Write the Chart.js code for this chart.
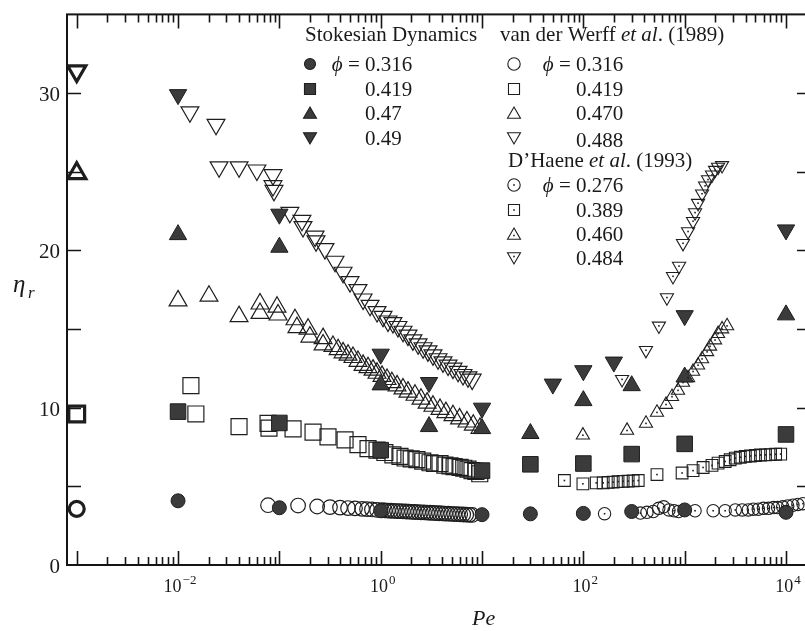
<!DOCTYPE html>
<html><head><meta charset="utf-8">
<script src="https://cdn.jsdelivr.net/npm/chart.js@4.4.1/dist/chart.umd.min.js"></script>
<style>html,body{margin:0;padding:0;background:#fff;overflow:hidden;}#wrap{width:830px;height:631px;}</style>
</head><body><div id="wrap"><canvas id="c" width="830" height="631"></canvas></div>
<script>
// ---------- axis ranges and ticks ----------
const X_MIN = 8.02e-4, X_MAX = 1.765e4, Y_MIN = 0, Y_MAX = 35;
const xMajorTicks = [1e-3, 1e-2, 1e-1, 1, 10, 100, 1000, 1e4];
const xLabelTicks = [1e-2, 1, 100, 1e4];
const xLabelExp = ['\u22122', '0', '2', '4'];
const yMinorTicks = [5, 10, 15, 20, 25, 30];
const yLabelTicks = [0, 10, 20, 30];
const yTickLabels = ['0', '10', '20', '30'];

// ---------- Stokesian Dynamics (filled) ----------
const sdPe316 = [0.01, 0.1, 1, 10, 30, 100, 300, 1000, 10000];
const sdEta316 = [4.08, 3.64, 3.45, 3.2, 3.25, 3.28, 3.4, 3.5, 3.35];
const sdPe419 = [0.01, 0.1, 1, 10, 30, 100, 300, 1000, 10000];
const sdEta419 = [9.75, 9.03, 7.3, 6.0, 6.4, 6.45, 7.05, 7.7, 8.3];
const sdPe47 = [0.01, 0.1, 1, 3, 10, 30, 100, 300, 1000, 10000];
const sdEta47 = [21.0, 20.2, 11.45, 8.8, 8.67, 8.36, 10.45, 11.4, 11.95, 15.9];
const sdPe49 = [0.01, 0.1, 1, 3, 10, 50, 100, 200, 1000, 10000];
const sdEta49 = [29.9, 22.3, 13.4, 11.6, 9.97, 11.5, 12.35, 12.9, 15.85, 21.3];

// ---------- van der Werff et al. (1989) (open; first point = zero-shear value) ----------
const vdwPe316 = [0.001, 0.0773, 0.153, 0.236, 0.316, 0.397, 0.476, 0.558, 0.655, 0.733, 0.82, 0.92,
  1.03, 1.10, 1.18, 1.26, 1.35, 1.45, 1.55, 1.66, 1.78, 1.90, 2.04, 2.18, 2.34, 2.50, 2.68, 2.87,
  3.07, 3.29, 3.52, 3.77, 4.04, 4.32, 4.63, 4.96, 5.31, 5.69, 6.09, 6.52, 6.98, 7.48, 8.01];
const vdwEta316 = [3.57, 3.8, 3.78, 3.72, 3.68, 3.65, 3.62, 3.6, 3.57, 3.55, 3.53, 3.5,
  3.48, 3.47, 3.46, 3.45, 3.44, 3.43, 3.42, 3.41, 3.40, 3.39, 3.38, 3.37, 3.36, 3.35, 3.34, 3.33,
  3.32, 3.31, 3.30, 3.29, 3.28, 3.27, 3.26, 3.25, 3.24, 3.23, 3.22, 3.21, 3.20, 3.19, 3.18];
const vdwPe419 = [0.001, 0.0134, 0.015, 0.04, 0.0773, 0.079, 0.1365, 0.215, 0.302, 0.445, 0.597, 0.75,
  0.92, 1.1, 1.32, 1.55, 1.74, 2.0, 2.28, 2.6, 3.07, 3.4, 3.85, 4.3, 4.83, 5.3, 6.07, 6.6, 7.27, 7.96, 8.7, 9.5];
const vdwEta419 = [9.6, 11.4, 9.6, 8.8, 9.0, 8.7, 8.65, 8.45, 8.15, 7.95, 7.65, 7.4,
  7.3, 7.15, 7.0, 6.9, 6.8, 6.75, 6.7, 6.6, 6.5, 6.45, 6.45, 6.35, 6.3, 6.25, 6.2, 6.15, 6.1, 6.0, 5.95, 5.8];
const vdwPe470 = [0.001, 0.01, 0.0202, 0.04, 0.0644, 0.0644, 0.0948, 0.097, 0.1426, 0.149, 0.192, 0.2,
  0.27, 0.27, 0.338, 0.38, 0.425, 0.476, 0.533, 0.597, 0.67, 0.75, 0.84, 0.92, 1.03, 1.155, 1.29, 1.45,
  1.66, 1.86, 2.18, 2.5, 2.87, 3.28, 3.85, 4.4, 5.17, 6.0, 7.1, 8.2, 9.55];
const vdwEta470 = [24.9, 16.8, 17.1, 15.8, 16.6, 16.0, 16.4, 15.9, 15.6, 15.1, 15.0, 14.5,
  14.4, 14.0, 13.9, 13.7, 13.5, 13.35, 13.2, 12.95, 12.7, 12.55, 12.4, 12.2, 12.0, 11.8, 11.6, 11.4,
  11.2, 11.0, 10.8, 10.55, 10.3, 10.1, 9.9, 9.7, 9.5, 9.3, 9.1, 8.9, 8.7];
const vdwPe488 = [0.001, 0.0131, 0.0237, 0.0254, 0.04, 0.06, 0.0865, 0.0865, 0.0885, 0.127, 0.167, 0.171,
  0.225, 0.23, 0.282, 0.354, 0.425, 0.498, 0.597, 0.67, 0.785, 0.92, 1.054, 1.18, 1.32, 1.48, 1.66, 1.86,
  2.08, 2.34, 2.62, 2.93, 3.28, 3.68, 4.12, 4.62, 5.17, 5.8, 6.49, 7.27, 8.0];
const vdwEta488 = [31.4, 28.8, 28.0, 25.3, 25.3, 25.1, 24.8, 24.1, 23.8, 22.4, 21.9, 21.5,
  20.9, 20.6, 20.1, 19.3, 18.6, 18.0, 17.5, 16.9, 16.5, 16.1, 15.8, 15.5, 15.4, 15.15, 14.85, 14.6,
  14.3, 14.05, 13.8, 13.6, 13.35, 13.1, 12.9, 12.7, 12.5, 12.3, 12.1, 11.95, 11.8];

// ---------- D'Haene et al. (1993) (open with centre dot) ----------
const dhPe276 = [162, 366, 425, 490, 555, 620, 700, 785, 870, 1266, 1910, 2510, 3160, 3700, 4240, 4760,
  5330, 5990, 6720, 7530, 8270, 9280, 10400, 11700, 13100, 14700];
const dhEta276 = [3.26, 3.3, 3.35, 3.4, 3.6, 3.7, 3.5, 3.45, 3.4, 3.45, 3.45, 3.45, 3.5, 3.5, 3.5, 3.55,
  3.55, 3.6, 3.6, 3.65, 3.65, 3.7, 3.75, 3.8, 3.85, 3.9];
const dhPe389 = [65, 99, 134, 157, 176, 197, 220, 247, 277, 310, 348, 533, 943, 1210, 1520, 1860, 2136,
  2510, 2810, 3160, 3540, 3970, 4450, 5000, 5600, 6280, 7040, 7900, 8860];
const dhEta389 = [5.37, 5.16, 5.22, 5.22, 5.25, 5.27, 5.3, 5.32, 5.33, 5.35, 5.37, 5.75, 5.85, 6.0, 6.2, 6.33, 6.48,
  6.58, 6.69, 6.79, 6.85, 6.9, 6.93, 6.96, 6.99, 7.0, 7.02, 7.04, 7.05];
const dhPe460 = [99, 270, 415, 533, 655, 750, 860, 963, 1080, 1210, 1356, 1485, 1665, 1782, 1995, 2136, 2340, 2620];
const dhEta460 = [8.25, 8.55, 9.0, 9.7, 10.2, 10.7, 11.1, 11.6, 11.9, 12.3, 12.7, 13.1, 13.55, 13.9, 14.3, 14.7, 15.0, 15.2];
const dhPe484 = [241, 415, 557, 668, 767, 880, 963, 1080, 1210, 1266, 1355, 1485, 1590, 1700, 1862, 1995, 2136, 2340];
const dhEta484 = [11.8, 13.65, 15.2, 17.0, 18.35, 19.0, 20.45, 21.2, 21.85, 22.4, 23.0, 23.6, 24.1, 24.5, 24.8, 25.1, 25.3, 25.4];

// ---------- legend texts ----------
const sdTitle = 'Stokesian Dynamics';
const sdPhis = ['0.316', '0.419', '0.47', '0.49'];
const vdwPhis = ['0.316', '0.419', '0.470', '0.488'];
const dhPhis = ['0.276', '0.389', '0.460', '0.484'];

const pts = (xs, ys) => xs.map((x, i) => ({x: x, y: ys[i]}));
const INK = '#1e1e1e', FILL = '#3b3b3b';

function filledDS(label, xs, ys, style, r, rot) {
  return {label, data: pts(xs, ys), pointStyle: style, pointRadius: r, pointRotation: rot || 0,
    backgroundColor: FILL, borderColor: INK, pointBorderWidth: 1, showLine: false};
}
function openDS(label, xs, ys, style, r, rot, thickR) {
  return {label, data: pts(xs, ys), pointStyle: style, pointRotation: rot || 0,
    pointRadius: c => c.dataIndex === 0 ? thickR : r,
    pointBorderWidth: c => c.dataIndex === 0 ? 3.2 : 1.2,
    backgroundColor: 'rgba(0,0,0,0)', borderColor: INK, showLine: false};
}
function dotDS(label, xs, ys, style, r, rot) {
  return {label, data: pts(xs, ys), pointStyle: style, pointRadius: r, pointRotation: rot || 0,
    pointBorderWidth: 1.1, backgroundColor: 'rgba(0,0,0,0)', borderColor: INK, showLine: false, dotted: true};
}

const datasets = [
  filledDS('SD 0.316', sdPe316, sdEta316, 'circle', 7),
  filledDS('SD 0.419', sdPe419, sdEta419, 'rect', 11),
  filledDS('SD 0.47', sdPe47, sdEta47, 'triangle', 10),
  filledDS('SD 0.49', sdPe49, sdEta49, 'triangle', 10, 180),
  openDS('vdW 0.316', vdwPe316, vdwEta316, 'circle', 7.3, 0, 7.5),
  openDS('vdW 0.419', vdwPe419, vdwEta419, 'rect', 11.3, 0, 11.2),
  openDS('vdW 0.470', vdwPe470, vdwEta470, 'triangle', 10.3, 0, 10.5),
  openDS('vdW 0.488', vdwPe488, vdwEta488, 'triangle', 10.3, 180, 10.5),
  dotDS('DH 0.276', dhPe276, dhEta276, 'circle', 6.2),
  dotDS('DH 0.389', dhPe389, dhEta389, 'rect', 8.3),
  dotDS('DH 0.460', dhPe460, dhEta460, 'triangle', 7.6),
  dotDS('DH 0.484', dhPe484, dhEta484, 'triangle', 7.6, 180)
];

function drawMarker(ctx, shape, x, y, r, mode) {
  ctx.save();
  ctx.beginPath();
  if (shape === 'circle') ctx.arc(x, y, r, 0, Math.PI * 2);
  else if (shape === 'rect') { const s = r * Math.SQRT1_2; ctx.rect(x - s, y - s, 2 * s, 2 * s); }
  else {
    let a = shape === 'down' ? Math.PI : 0;
    for (let k = 0; k < 3; k++) {
      const px = x + Math.sin(a) * r, py = y - Math.cos(a) * r;
      k ? ctx.lineTo(px, py) : ctx.moveTo(px, py);
      a += 2 * Math.PI / 3;
    }
  }
  ctx.closePath();
  ctx.lineWidth = 1.1;
  ctx.strokeStyle = INK;
  if (mode === 'filled') { ctx.fillStyle = FILL; ctx.fill(); }
  ctx.stroke();
  if (mode === 'dotted') { ctx.fillStyle = INK; ctx.fillRect(x - 0.8, y - 0.8, 1.6, 1.6); }
  ctx.restore();
}

const SERIF = '"Liberation Serif", "Times New Roman", serif';
function segs(ctx, x, y, parts) {
  // parts: [text, font]
  let cx = x;
  for (const [t, f] of parts) { ctx.font = f; ctx.fillText(t, cx, y); cx += ctx.measureText(t).width; }
  return cx;
}

const dotPlugin = {
  id: 'dots',
  afterDatasetsDraw(chart) {
    const ctx = chart.ctx;
    ctx.save();
    ctx.fillStyle = INK;
    chart.data.datasets.forEach((ds, i) => {
      if (!ds.dotted) return;
      chart.getDatasetMeta(i).data.forEach(el => ctx.fillRect(el.x - 0.8, el.y - 0.8, 1.6, 1.6));
    });
    ctx.restore();
  }
};

const axesPlugin = {
  id: 'axesDraw',
  afterDraw(chart) {
    const ctx = chart.ctx, xs = chart.scales.x, ys = chart.scales.y, a = chart.chartArea;
    ctx.save();
    ctx.strokeStyle = '#151515';
    ctx.lineWidth = 2;
    ctx.strokeRect(a.left, a.top, a.right - a.left, a.bottom - a.top);
    ctx.lineWidth = 1.6;
    ctx.beginPath();
    // x ticks (bottom & top)
    for (let e = -4; e <= 4; e++) {
      for (let k = 1; k <= 9; k++) {
        const v = k * Math.pow(10, e);
        if (v < 1e-3 || v > X_MAX) continue;
        const px = Math.round(xs.getPixelForValue(v)) + 0.5;
        const len = k === 1 ? 14 : 8;
        ctx.moveTo(px, a.bottom); ctx.lineTo(px, a.bottom - len);
        ctx.moveTo(px, a.top); ctx.lineTo(px, a.top + len);
      }
    }
    // y ticks (left & right)
    for (const v of yMinorTicks) {
      const py = Math.round(ys.getPixelForValue(v)) + 0.5;
      ctx.moveTo(a.left, py); ctx.lineTo(a.left + 14, py);
      ctx.moveTo(a.right, py); ctx.lineTo(a.right - 14, py);
    }
    ctx.stroke();

    ctx.fillStyle = '#1a1a1a';
    ctx.textBaseline = 'alphabetic';
    // y tick labels
    ctx.font = '21px ' + SERIF;
    ctx.textAlign = 'right';
    yLabelTicks.forEach((v, i) => {
      ctx.fillText(yTickLabels[i], 60, ys.getPixelForValue(v) + 8);
    });
    // x tick labels 10^n
    ctx.textAlign = 'left';
    xLabelTicks.forEach((v, i) => {
      ctx.font = '18px ' + SERIF;
      const w1 = ctx.measureText('10').width;
      ctx.font = '13px ' + SERIF;
      const w2 = ctx.measureText(xLabelExp[i]).width;
      const x0 = xs.getPixelForValue(v) + 2 - (w1 + w2 + 1) / 2;
      ctx.font = '18px ' + SERIF;
      ctx.fillText('10', x0, 592);
      ctx.font = '13px ' + SERIF;
      ctx.fillText(xLabelExp[i], x0 + w1 + 1, 584);
    });
    // axis titles
    ctx.font = 'italic 25px ' + SERIF;
    ctx.fillText('\u03B7', 13, 292);
    ctx.font = 'italic 17px ' + SERIF;
    ctx.fillText('r', 28, 298);
    ctx.font = 'italic 22px ' + SERIF;
    ctx.fillText('Pe', 472, 625);

    // legend
    const F = '21px ' + SERIF, FI = 'italic 21px ' + SERIF;
    ctx.font = F;
    ctx.fillText(sdTitle, 305, 41);
    segs(ctx, 500, 41, [['van der Werff ', F], ['et al', FI], ['. (1989)', F]]);
    segs(ctx, 508, 167, [['D\u2019Haene ', F], ['et al', FI], ['. (1993)', F]]);
    const rowsTop = [71, 96, 120, 145];
    const rowsBot = [192, 217, 241, 265];
    const shapes = ['circle', 'rect', 'up', 'down'];
    const radii = [5.5, 7.8, 7.5, 7.5];
    const phiPrefix = (xNum, y) => {
      ctx.font = F;
      const w = ctx.measureText(' = ').width;
      ctx.fillText(' = ', xNum - w, y);
      ctx.font = FI;
      const wp = ctx.measureText('\u03D5').width;
      ctx.fillText('\u03D5', xNum - w - wp, y);
    };
    for (let i = 0; i < 4; i++) {
      // Stokesian Dynamics
      drawMarker(ctx, shapes[i], 310, rowsTop[i] - 7 + (i === 2 ? 1.5 : i === 3 ? -1.5 : 0), radii[i], 'filled');
      ctx.font = F; ctx.fillText(sdPhis[i], 365, rowsTop[i]);
      if (i === 0) phiPrefix(365, rowsTop[i]);
      // van der Werff
      drawMarker(ctx, shapes[i], 514, rowsTop[i] - 7 + (i === 2 ? 1.5 : i === 3 ? -1.5 : 0), radii[i] + (i === 0 ? 0.7 : 0), 'open');
      ctx.font = F; ctx.fillText(vdwPhis[i], 576, rowsTop[i] + (i === 3 ? 2 : 0));
      if (i === 0) phiPrefix(576, rowsTop[i]);
      // D'Haene
      drawMarker(ctx, shapes[i], 514, rowsBot[i] - 7 + (i === 2 ? 1.5 : i === 3 ? -1.5 : 0), radii[i] + (i === 0 ? 0.7 : 0), 'dotted');
      ctx.font = F; ctx.fillText(dhPhis[i], 576, rowsBot[i]);
      if (i === 0) phiPrefix(576, rowsBot[i]);
    }
    ctx.restore();
  }
};

new Chart(document.getElementById('c'), {
  type: 'scatter',
  data: {datasets},
  options: {
    responsive: false,
    animation: false,
    devicePixelRatio: 1,
    layout: {padding: {left: 67, top: 7, right: 19, bottom: 66}},
    plugins: {legend: {display: false}, tooltip: {enabled: false}},
    events: [],
    scales: {
      x: {type: 'logarithmic', min: X_MIN, max: X_MAX, display: false},
      y: {type: 'linear', min: Y_MIN, max: Y_MAX, display: false}
    }
  },
  plugins: [dotPlugin, axesPlugin]
});
</script>
</body></html>
